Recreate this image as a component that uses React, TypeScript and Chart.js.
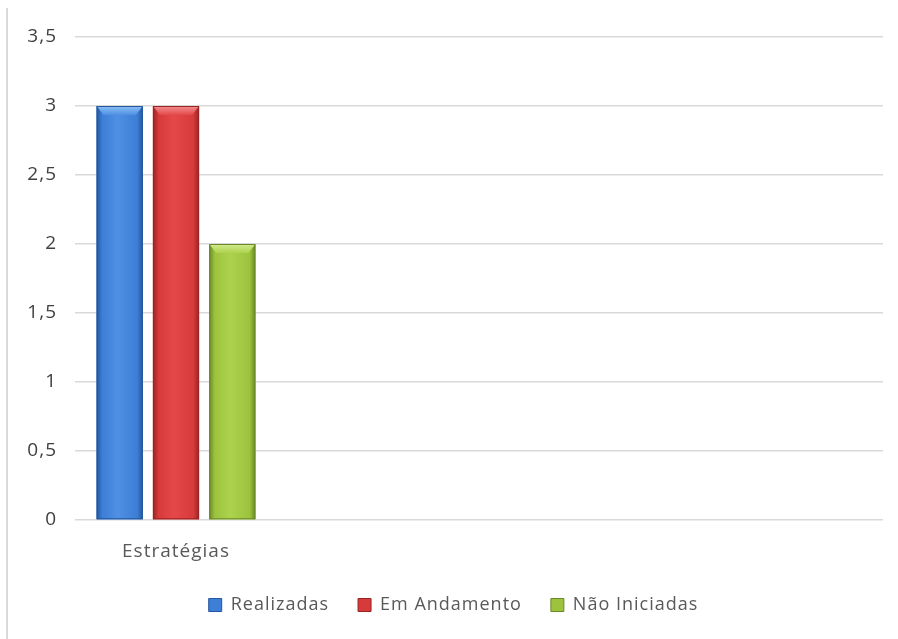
import React, { useEffect, useRef } from "react";
import { Chart, registerables } from "chart.js";

Chart.register(...registerables);

const categories = ["Estratégias", "", "", ""];
const seriesNames = ["Realizadas", "Em Andamento", "Não Iniciadas"];
const realizadas = [3, null, null, null];
const emAndamento = [3, null, null, null];
const naoIniciadas = [2, null, null, null];
const yTicks = [0, 0.5, 1, 1.5, 2, 2.5, 3, 3.5];

const palette = [
  { mid: "#3d7ed6", light: "#4f90e4", dark: "#24579e", top: "#8cc0f5" },
  { mid: "#d63a3a", light: "#e44848", dark: "#982424", top: "#f29090" },
  { mid: "#9cc23e", light: "#acd24e", dark: "#6a8a28", top: "#d4ec90" },
];

const setSpacing = (chart: any) => {
  chart.ctx.letterSpacing = "1px";
};
const spacingPlugin = {
  id: "spacing",
  beforeInit: setSpacing,
  beforeUpdate: setSpacing,
  beforeLayout: setSpacing,
  beforeDraw: setSpacing,
};

const bevelPlugin = {
  id: "bevel",
  afterDatasetsDraw(chart: any) {
    const ctx = chart.ctx;
    chart.data.datasets.forEach((_ds: any, di: number) => {
      const meta = chart.getDatasetMeta(di);
      const p = palette[di];
      meta.data.forEach((el: any) => {
        const { x, y, base, width } = el.getProps(["x", "y", "base", "width"], true);
        if (y == null || isNaN(y) || Math.abs(base - y) < 1) return;
        const l = x - width / 2;
        const r = x + width / 2;
        const g = ctx.createLinearGradient(l, 0, r, 0);
        g.addColorStop(0, p.dark);
        g.addColorStop(0.12, p.mid);
        g.addColorStop(0.45, p.light);
        g.addColorStop(0.88, p.mid);
        g.addColorStop(1, p.dark);
        ctx.save();
        ctx.fillStyle = g;
        ctx.fillRect(l, y, width, base - y);
        const bh = 9;
        ctx.beginPath();
        ctx.moveTo(l, y);
        ctx.lineTo(r, y);
        ctx.lineTo(r - 7, y + bh);
        ctx.lineTo(l + 7, y + bh);
        ctx.closePath();
        const tg = ctx.createLinearGradient(0, y, 0, y + bh);
        tg.addColorStop(0, p.top);
        tg.addColorStop(1, p.light);
        ctx.fillStyle = tg;
        ctx.fill();
        ctx.strokeStyle = p.dark;
        ctx.lineWidth = 1;
        ctx.strokeRect(l + 0.5, y + 0.5, width - 1, base - y - 1);
        ctx.restore();
      });
    });
  },
};

export default function App() {
  const ref = useRef<HTMLCanvasElement | null>(null);
  useEffect(() => {
    if (!ref.current) return;
    const font = "'Open Sans', 'DejaVu Sans', sans-serif";
    const chart = new Chart(ref.current, {
      type: "bar",
      data: {
        labels: categories,
        datasets: [
          { label: seriesNames[0], data: realizadas, backgroundColor: palette[0].mid },
          { label: seriesNames[1], data: emAndamento, backgroundColor: palette[1].mid },
          { label: seriesNames[2], data: naoIniciadas, backgroundColor: palette[2].mid },
        ],
      },
      options: {
        responsive: false,
        animation: false,
        devicePixelRatio: 1,
        layout: { padding: { left: 24, right: 15, top: 37, bottom: 15 } },
        datasets: { bar: { categoryPercentage: 0.836, barPercentage: 0.82 } },
        plugins: {
          tooltip: { enabled: false },
          legend: {
            position: "bottom",
            labels: {
              boxWidth: 13,
              boxHeight: 13,
              padding: 29,
              color: "#595959",
              font: { family: font, size: 18 },
              generateLabels: (c: any) =>
                c.data.datasets.map((ds: any, i: number) => ({
                  text: ds.label,
                  fillStyle: palette[i].mid,
                  strokeStyle: palette[i].dark,
                  lineWidth: 1,
                  fontColor: "#595959",
                  datasetIndex: i,
                  hidden: false,
                })),
            },
          },
        },
        scales: {
          x: {
            afterFit: (s: any) => {
              s.height = 47;
            },
            grid: { display: false, drawTicks: false },
            border: { display: false },
            ticks: { color: "#595959", font: { family: font, size: 19 }, padding: 20, maxRotation: 0 },
          },
          y: {
            min: 0,
            max: 3.5,
            afterBuildTicks: (s: any) => {
              s.ticks = yTicks.map((v) => ({ value: v }));
            },
            afterFit: (s: any) => {
              s.width = 51;
            },
            grid: { color: "#d9d9d9", lineWidth: 1.5, drawTicks: false },
            border: { display: false },
            ticks: {
              color: "#404040",
              font: { family: font, size: 19 },
              padding: 18,
              callback: (v: any) => String(v).replace(".", ","),
            },
          },
        },
      },
      plugins: [spacingPlugin, bevelPlugin],
    } as any);
    return () => chart.destroy();
  }, []);
  return (
    <div style={{ position: "fixed", left: 0, top: 0, width: 898, height: 639, background: "#fff" }}>
      <div style={{ position: "absolute", left: 6, top: 8, bottom: 0, width: 2, background: "#d9d9d9" }} />
      <canvas ref={ref} width={898} height={639} style={{ position: "absolute", left: 0, top: 0 }} />
    </div>
  );
}
